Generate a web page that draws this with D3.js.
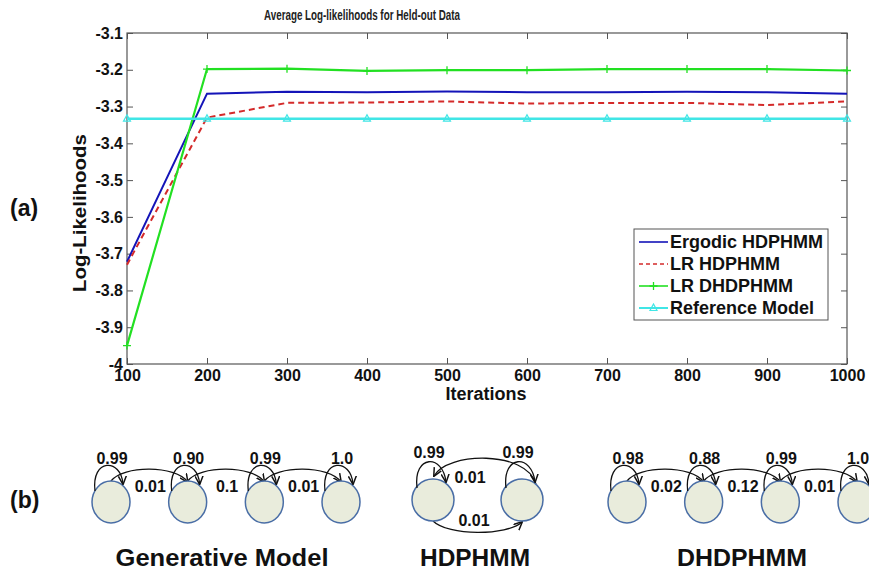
<!DOCTYPE html>
<html>
  <head>
    <meta charset="utf-8">
    <title>d</title>
    <style media="screen">
    body{margin:0;background:#fff}
    text{font-family:"Liberation Sans",Arial,sans-serif;font-weight:bold}
    </style>
  </head>
  <body>
    <svg width="869" height="571"></svg>
    <script src="https://cdn.jsdelivr.net/npm/d3@7"></script>
    <script>

    // plot data (a)
    var iterations = [100, 200, 300, 400, 500, 600, 700, 800, 900, 1000];
    var ergodic   = [-3.722, -3.265, -3.260, -3.261, -3.259, -3.261, -3.261, -3.260, -3.261, -3.265];
    var lrHdp     = [-3.730, -3.330, -3.290, -3.289, -3.286, -3.292, -3.290, -3.290, -3.296, -3.286];
    var lrDhdp    = [-3.950, -3.198, -3.197, -3.203, -3.201, -3.201, -3.198, -3.198, -3.198, -3.202];
    var reference = [-3.333, -3.333, -3.333, -3.333, -3.333, -3.333, -3.333, -3.333, -3.333, -3.333];
    var seriesNames = ["Ergodic HDPHMM", "LR HDPHMM", "LR DHDPHMM", "Reference Model"];
    var xTicks = [100, 200, 300, 400, 500, 600, 700, 800, 900, 1000];
    var yTicks = [-4, -3.9, -3.8, -3.7, -3.6, -3.5, -3.4, -3.3, -3.2, -3.1];

    // state diagrams (b)
    var genSelf = ["0.99", "0.90", "0.99", "1.0"];
    var genTrans = ["0.01", "0.1", "0.01"];
    var hdpSelf = ["0.99", "0.99"];
    var hdpTrans = ["0.01", "0.01"];
    var dhdpSelf = ["0.98", "0.88", "0.99", "1.0"];
    var dhdpTrans = ["0.02", "0.12", "0.01"];
    var diagramTitles = ["Generative Model", "HDPHMM", "DHDPHMM"];

    var svg = d3.select("svg");

    // scales
    var x = d3.scaleLinear().domain([100, 1000]).range([127, 847]);
    var y = d3.scaleLinear().domain([-4, -3.1]).range([364, 33]);

    var series = [
      {name: seriesNames[0], values: ergodic, color: "#1414b8", dash: null, marker: null, width: 2},
      {name: seriesNames[1], values: lrHdp, color: "#d42a2a", dash: "6,4", marker: null, width: 2},
      {name: seriesNames[2], values: lrDhdp, color: "#22e022", dash: null, marker: "plus", width: 2.2},
      {name: seriesNames[3], values: reference, color: "#40e6e6", dash: null, marker: "tri", width: 2.6}
    ];

    // title
    svg.append("text").attr("x", 362).attr("y", 20).attr("text-anchor", "middle")
      .attr("font-size", 14).attr("textLength", 196).attr("lengthAdjust", "spacingAndGlyphs")
      .attr("fill", "#222").text("Average Log-likelihoods for Held-out Data");

    var gg = svg.append("g");

    function styleAxis(g, fs) {
      g.select(".domain").remove();
      g.selectAll("line").attr("stroke", "#555");
      g.selectAll("text").attr("font-size", fs).attr("font-family", null).attr("fill", "#111");
    }

    gg.append("g").attr("transform", "translate(0,364)")
      .call(d3.axisBottom(x).tickValues(xTicks).tickSize(-6).tickPadding(6).tickFormat(d3.format("d")))
      .call(styleAxis, 16);
    gg.append("g").attr("transform", "translate(0,33)")
      .call(d3.axisTop(x).tickValues(xTicks).tickSize(-6).tickFormat(""))
      .call(styleAxis, 16);
    gg.append("g").attr("transform", "translate(127,0)")
      .call(d3.axisLeft(y).tickValues(yTicks).tickSize(-6).tickPadding(4).tickFormat(function(d) { return String(d); }))
      .call(styleAxis, 16);
    gg.append("g").attr("transform", "translate(847,0)")
      .call(d3.axisRight(y).tickValues(yTicks).tickSize(-6).tickFormat(""))
      .call(styleAxis, 16);

    gg.append("rect").attr("x", 127).attr("y", 33).attr("width", 720).attr("height", 331)
      .attr("fill", "none").attr("stroke", "#555").attr("stroke-width", 1.2);

    // axis labels
    svg.append("text").attr("x", 486).attr("y", 400).attr("text-anchor", "middle")
      .attr("font-size", 18).attr("fill", "#111").text("Iterations");
    svg.append("text").attr("transform", "translate(86,213) rotate(-90)").attr("text-anchor", "middle")
      .attr("font-size", 18).attr("textLength", 158).attr("lengthAdjust", "spacingAndGlyphs")
      .attr("fill", "#111").text("Log-Likelihoods");

    svg.append("text").attr("x", 10).attr("y", 216).attr("font-size", 23).attr("fill", "#111").text("(a)");
    svg.append("text").attr("x", 10).attr("y", 508).attr("font-size", 23).attr("fill", "#111").text("(b)");

    // lines
    var line = d3.line()
      .x(function(d, i) { return x(iterations[i]); })
      .y(function(d) { return y(d); });

    function drawMarker(g, kind, cx, cy, color) {
      if (kind === "plus") {
        g.append("path").attr("d", "M" + (cx - 4) + "," + cy + "H" + (cx + 4) + "M" + cx + "," + (cy - 4) + "V" + (cy + 4))
          .attr("stroke", color).attr("stroke-width", 1.3).attr("fill", "none");
      } else if (kind === "tri") {
        g.append("path").attr("d", "M" + cx + "," + (cy - 4) + "L" + (cx + 3.5) + "," + (cy + 2.5) + "L" + (cx - 3.5) + "," + (cy + 2.5) + "Z")
          .attr("stroke", color).attr("stroke-width", 1.2).attr("fill", "none");
      }
    }

    var plot = gg.append("g");
    series.forEach(function(s) {
      plot.append("path").datum(s.values).attr("d", line)
        .attr("fill", "none").attr("stroke", s.color).attr("stroke-width", s.width)
        .attr("stroke-dasharray", s.dash);
      if (s.marker) {
        s.values.forEach(function(v, i) { drawMarker(plot, s.marker, x(iterations[i]), y(v), s.color); });
      }
    });

    // legend
    var lg = svg.append("g");
    lg.append("rect").attr("x", 634).attr("y", 229).attr("width", 194).attr("height", 91)
      .attr("fill", "#fff").attr("stroke", "#555").attr("stroke-width", 1);
    series.forEach(function(s, i) {
      var ly = 242 + i * 22;
      lg.append("line").attr("x1", 639).attr("x2", 668).attr("y1", ly).attr("y2", ly)
        .attr("stroke", s.color).attr("stroke-width", s.width === 2.6 ? 2 : 1.6).attr("stroke-dasharray", s.dash ? "4,3" : null);
      if (s.marker) drawMarker(lg, s.marker, 653.5, ly, s.color);
      lg.append("text").attr("x", 670).attr("y", ly + 6).attr("font-size", 18).attr("fill", "#111").text(s.name);
    });

    // state diagrams
    var defs = svg.append("defs");
    defs.append("marker").attr("id", "arr").attr("viewBox", "0 0 8 8").attr("refX", 7).attr("refY", 4)
      .attr("markerWidth", 7).attr("markerHeight", 7).attr("orient", "auto")
      .append("path").attr("d", "M0,0.5 L7.5,4 L0,7.5").attr("fill", "none").attr("stroke", "#111").attr("stroke-width", 1.3);

    var rx = 19, ry = 21;
    var diag = svg.append("g");

    function chain(self, trans, x0, x1, cy) {
      var sx = d3.scalePoint().domain(d3.range(self.length)).range([x0, x1]);
      var g = diag.append("g");
      // transitions to the next state
      trans.forEach(function(t, i) {
        var a = sx(i), b = sx(i + 1);
        g.append("path")
          .attr("d", "M" + a + "," + (cy - ry) + " C" + (a + 12) + "," + (cy - 37) + " " + (b - 12) + "," + (cy - 37) + " " + b + "," + (cy - ry + 1))
          .attr("fill", "none").attr("stroke", "#111").attr("stroke-width", 1.3).attr("marker-end", "url(#arr)");
        g.append("text").attr("x", (a + b) / 2 + 1).attr("y", cy - 10).attr("text-anchor", "middle")
          .attr("font-size", 16).attr("fill", "#111").text(t);
      });
      self.forEach(function(p, i) {
        var c = sx(i);
        g.append("ellipse").attr("cx", c).attr("cy", cy).attr("rx", rx).attr("ry", ry)
          .attr("fill", "#e9ecdc").attr("stroke", "#4a6ea6").attr("stroke-width", 1.5);
      });
      self.forEach(function(p, i) {
        var c = sx(i);
        g.append("path")
          .attr("d", "M" + (c - 16) + "," + (cy - 11) + " C" + (c - 20) + "," + (cy - 44) + " " + (c + 10) + "," + (cy - 44) + " " + (c + 12) + "," + (cy - 18))
          .attr("fill", "none").attr("stroke", "#111").attr("stroke-width", 1.3).attr("marker-end", "url(#arr)");
        g.append("text").attr("x", c + 1).attr("y", cy - 38).attr("text-anchor", "middle")
          .attr("font-size", 16).attr("fill", "#111").text(p);
      });
    }

    chain(genSelf, genTrans, 111, 341, 502);
    chain(dhdpSelf, dhdpTrans, 627, 857, 502);

    // HDPHMM: two ergodic states
    var hx = d3.scalePoint().domain([0, 1]).range([433, 522]);
    var hcy = 500;
    var hg = diag.append("g");
    hg.append("path")
      .attr("d", "M" + (hx(1) + 14) + "," + (hcy - 16) + " C" + (hx(1) + 4) + "," + (hcy - 50) + " " + (hx(0) + 14) + "," + (hcy - 48) + " " + (hx(0) + 1) + "," + (hcy - 24))
      .attr("fill", "none").attr("stroke", "#111").attr("stroke-width", 1.3).attr("marker-end", "url(#arr)");
    hg.append("path")
      .attr("d", "M" + hx(0) + "," + (hcy + ry) + " C" + (hx(0) + 15) + "," + (hcy + 36) + " " + (hx(1) - 15) + "," + (hcy + 36) + " " + hx(1) + "," + (hcy + ry + 1))
      .attr("fill", "none").attr("stroke", "#111").attr("stroke-width", 1.3).attr("marker-end", "url(#arr)");
    hdpSelf.forEach(function(p, i) {
      var c = hx(i);
      hg.append("ellipse").attr("cx", c).attr("cy", hcy).attr("rx", 21).attr("ry", 21)
        .attr("fill", "#e9ecdc").attr("stroke", "#4a6ea6").attr("stroke-width", 1.5);
      hg.append("path")
        .attr("d", "M" + (c - 16) + "," + (hcy - 12) + " C" + (c - 20) + "," + (hcy - 46) + " " + (c + 10) + "," + (hcy - 46) + " " + (c + 13) + "," + (hcy - 18))
        .attr("fill", "none").attr("stroke", "#111").attr("stroke-width", 1.3).attr("marker-end", "url(#arr)");
      hg.append("text").attr("x", c - 4).attr("y", hcy - 42).attr("text-anchor", "middle")
        .attr("font-size", 16).attr("fill", "#111").text(p);
    });
    hg.append("text").attr("x", 470).attr("y", 483).attr("text-anchor", "middle")
      .attr("font-size", 16).attr("fill", "#111").text(hdpTrans[0]);
    hg.append("text").attr("x", 474).attr("y", 526).attr("text-anchor", "middle")
      .attr("font-size", 16).attr("fill", "#111").text(hdpTrans[1]);

    // diagram titles
    var titleX = [222, 475, 742], titleW = [213, 110, 130];
    diagramTitles.forEach(function(t, i) {
      svg.append("text").attr("x", titleX[i]).attr("y", 566).attr("text-anchor", "middle")
        .attr("font-size", 24).attr("textLength", titleW[i]).attr("lengthAdjust", "spacingAndGlyphs")
        .attr("fill", "#111").text(t);
    });

    </script>
  </body>
</html>
